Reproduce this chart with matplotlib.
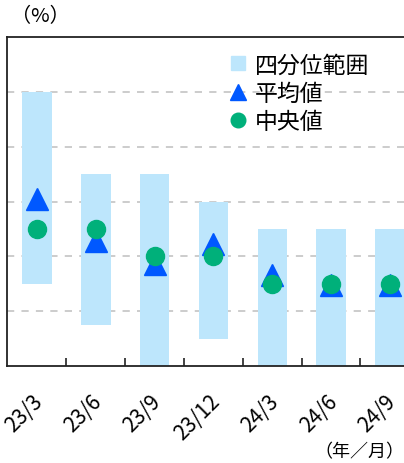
import matplotlib
matplotlib.use('Agg')

import matplotlib.pyplot as plt
import matplotlib.transforms as mtransforms
import numpy as np
from matplotlib.lines import Line2D

plt.rcParams['font.family'] = ['Noto Sans CJK JP', 'DejaVu Sans']

# data
periods = ["23/3", "23/6", "23/9", "23/12", "24/3", "24/6", "24/9"]
q_low = [1.5, 0.75, 0.0, 0.5, 0.0, 0.0, 0.0]
q_high = [5.0, 3.5, 3.5, 3.0, 2.5, 2.5, 2.5]
mean_vals = [3.05, 2.28, 1.86, 2.23, 1.66, 1.47, 1.47]
median_vals = [2.5, 2.5, 2.0, 2.0, 1.5, 1.5, 1.5]

BAR_C = "#bde6fc"
MEAN_C = "#0058ff"
MED_C = "#00b07a"

fig = plt.figure(figsize=(4.04, 4.64), dpi=100)
ax = fig.add_axes([7 / 404, 1 - 367 / 464, 397 / 404, 329 / 464])

x = np.arange(len(periods))
ax.bar(x, np.array(q_high) - np.array(q_low), bottom=q_low, width=0.5,
       color=BAR_C, zorder=2)
ax.plot(x, mean_vals, linestyle='none', marker='^', markersize=16.5,
        color=MEAN_C, zorder=3)
ax.plot(x, median_vals, linestyle='none', marker='o', markersize=13,
        color=MED_C, zorder=4)

ax.set_xlim(-0.51, 6.24)
ax.set_ylim(0, 6)

# dashed grid
for gy in [1, 2, 3, 4, 5]:
    ax.axhline(gy, color='#c8c8c8', linestyle=(0, (4, 4)), linewidth=1.3, zorder=1)

ax.set_yticks([])
ax.set_xticks(x)
ax.set_xticklabels(periods, rotation=45, ha='right', rotation_mode='anchor',
                   fontsize=15)
ax.tick_params(axis='x', which='major', length=0, pad=15)
ax.set_xticks(x[:-1] + 0.5, minor=True)
ax.tick_params(axis='x', which='minor', direction='in', length=6, width=1.2,
               color='#222222')

# nudge rotated labels left/down a bit
shift = mtransforms.ScaledTranslation(-0.05, -0.03, fig.dpi_scale_trans)
for lbl in ax.get_xticklabels():
    lbl.set_transform(lbl.get_transform() + shift)

for s in ['left', 'top', 'bottom']:
    ax.spines[s].set_linewidth(1.3)
    ax.spines[s].set_color('#222222')
ax.spines['right'].set_visible(False)

handles = [
    Line2D([], [], linestyle='none', marker='s', markersize=10.5, color=BAR_C),
    Line2D([], [], linestyle='none', marker='^', markersize=12, color=MEAN_C),
    Line2D([], [], linestyle='none', marker='o', markersize=10.5, color=MED_C),
]
ax.legend(handles, ["四分位範囲", "平均値", "中央値"], frameon=False,
          loc='upper left', bbox_to_anchor=(0.535, 0.978), fontsize=16.5,
          handlelength=0.8, handletextpad=0.35, labelspacing=0.24,
          borderaxespad=0)

fig.text(11 / 404, 1 - 17 / 464, "（%）", fontsize=14.5, va='center', ha='left')
fig.text(404 / 404, 1 - 452 / 464, "（年／月）", fontsize=13, va='center', ha='right')

plt.savefig("out.png", dpi=100)
